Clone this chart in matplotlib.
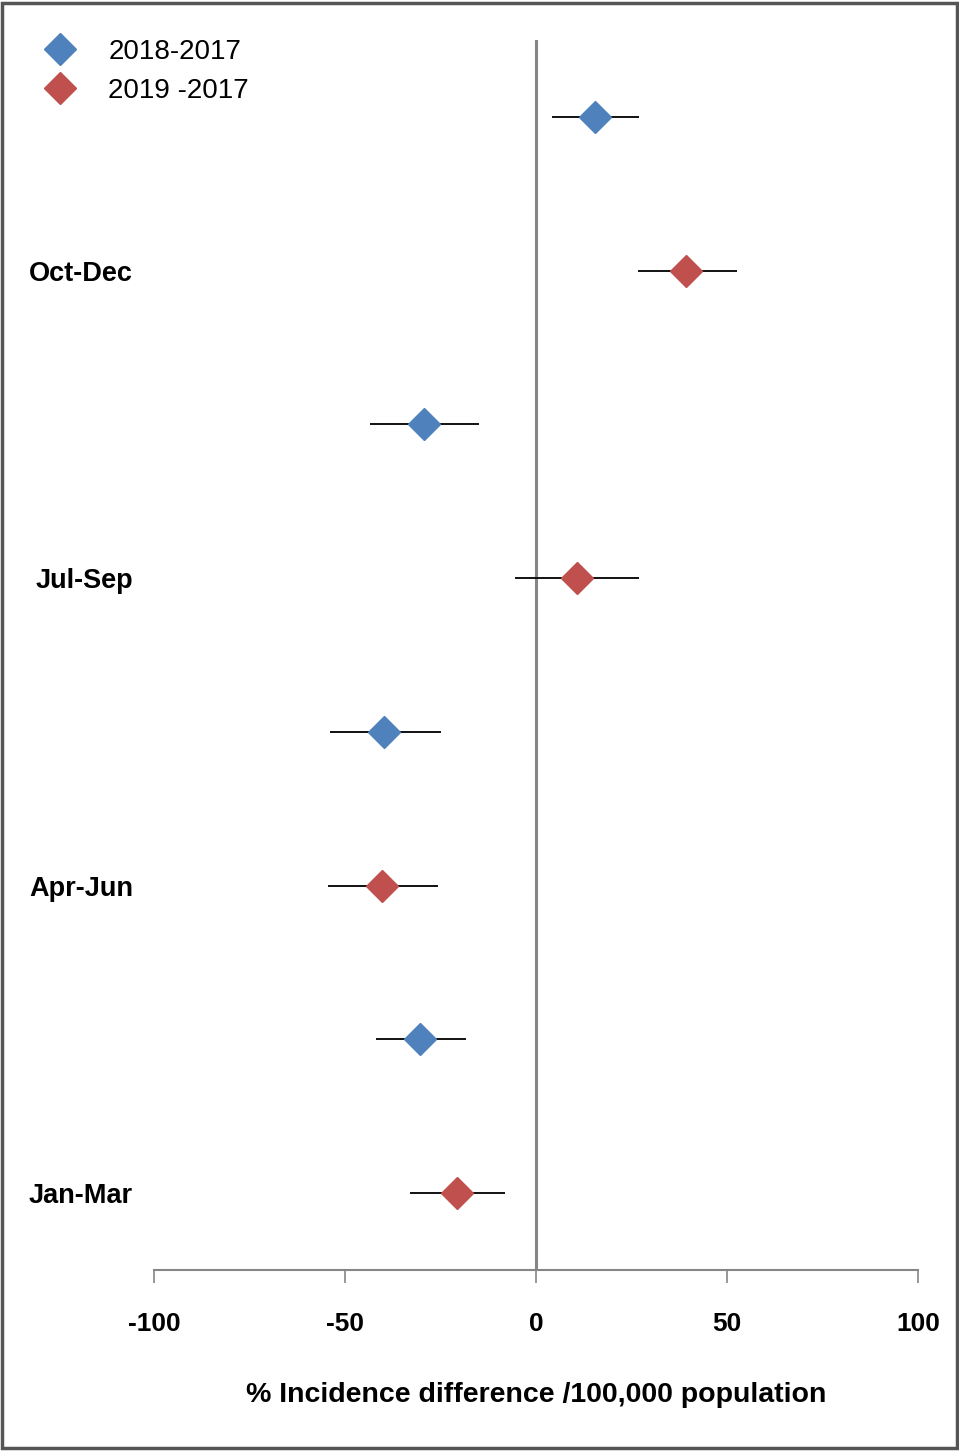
import matplotlib.pyplot as plt
import numpy as np
from matplotlib.patches import Rectangle

# values
quarters = ["Jan-Mar", "Apr-Jun", "Jul-Sep", "Oct-Dec"]
diff_2018 = [-30.4, -39.8, -29.3, 15.4]
low_2018 = [-41.9, -53.9, -43.5, 4.2]
high_2018 = [-18.3, -24.9, -14.9, 27.0]
diff_2019 = [-20.7, -40.3, 10.7, 39.3]
low_2019 = [-33.0, -54.5, -5.5, 26.7]
high_2019 = [-8.1, -25.7, 27.0, 52.6]
x_ticks = [-100, -50, 0, 50, 100]

BLUE = "#4F81BD"
RED = "#C0504D"
GRAY = "#868686"
FONT = ["Liberation Sans Narrow", "Liberation Sans", "DejaVu Sans"]

plt.rcParams["font.family"] = FONT

fig = plt.figure(figsize=(9.59, 14.51), dpi=100)
W, H = 959, 1451
ax = fig.add_axes([154 / W, 1 - 1270 / H, (918 - 154) / W, (1270 - 40) / H])

pos = np.arange(len(quarters)) * 2
y_2019 = pos + 0.5
y_2018 = pos + 1.5


def errs(mid, lo, hi):
    mid = np.asarray(mid)
    return [mid - np.asarray(lo), np.asarray(hi) - mid]


ax.axvline(0, color=GRAY, lw=2.2, zorder=1)

ax.errorbar(diff_2018, y_2018, xerr=errs(diff_2018, low_2018, high_2018),
            fmt="D", ms=16.5, color=BLUE, mec=BLUE, ecolor="#111111",
            elinewidth=1.4, capsize=0, label="2018-2017", zorder=3)
ax.errorbar(diff_2019, y_2019, xerr=errs(diff_2019, low_2019, high_2019),
            fmt="D", ms=16.5, color=RED, mec=RED, ecolor="#111111",
            elinewidth=1.4, capsize=0, label="2019 -2017", zorder=3)

ax.set_xlim(-100, 100)
ax.set_ylim(0, 8)
ax.set_xticks(x_ticks)
ax.set_xticklabels([str(v) for v in x_ticks], fontsize=19, fontweight="bold")
ax.tick_params(axis="x", direction="out", length=9, width=1.2, color=GRAY, pad=21)

ax.set_yticks(y_2019)
ax.set_yticklabels(quarters, fontsize=19.5, fontweight="bold")
ax.tick_params(axis="y", length=0, pad=15)

for side in ["top", "right", "left"]:
    ax.spines[side].set_visible(False)
ax.spines["bottom"].set_color(GRAY)
ax.spines["bottom"].set_linewidth(1.5)

ax.set_xlabel("% Incidence difference /100,000 population", fontsize=20.5,
              fontweight="bold", labelpad=33)

fig.legend(loc="upper left", bbox_to_anchor=(0.029, 0.981), frameon=False,
           fontsize=20, handletextpad=1.0, labelspacing=0.47, handlelength=1.5,
           borderaxespad=0)

fig.patches.append(Rectangle((0.002, 0.002), 0.996, 0.996, transform=fig.transFigure,
                             fill=False, edgecolor="#555555", lw=2.5))

fig.savefig("out.png", dpi=100)
